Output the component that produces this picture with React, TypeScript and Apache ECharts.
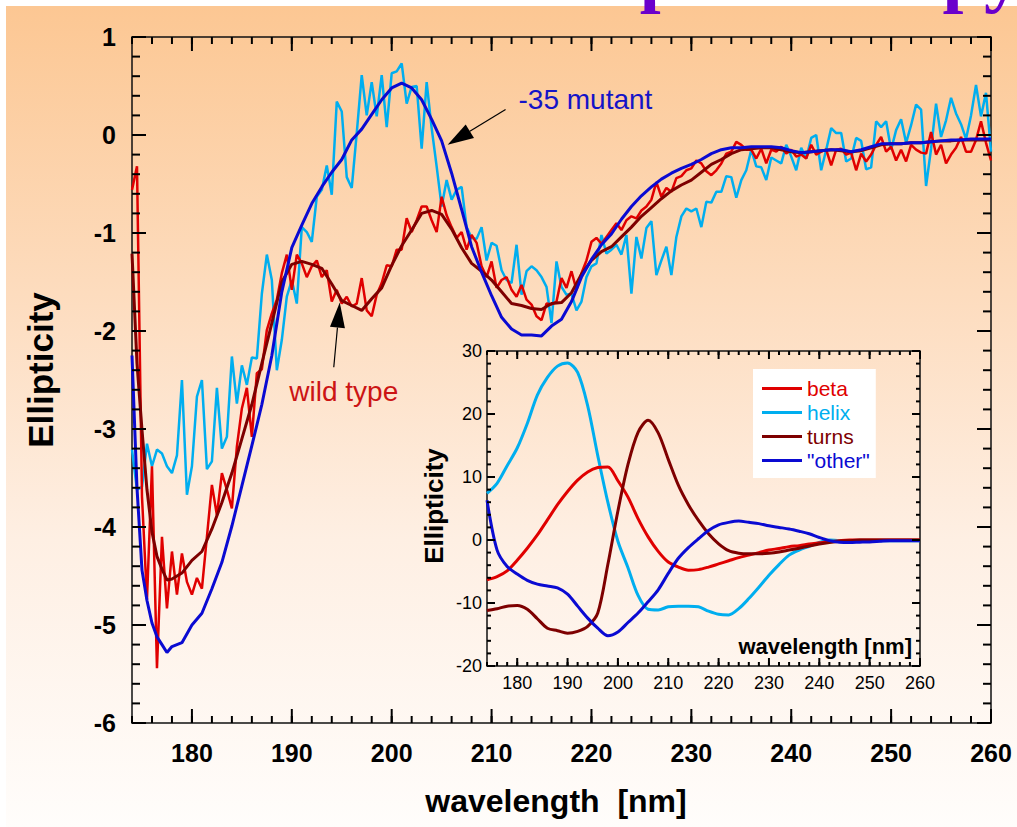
import { useEffect, useRef } from "react";
import * as echarts from "echarts";

// ---- main panel: CD scans, 0.5 nm steps from 174 nm ----
const scanStart = 174;
const scanStep = 0.5;

const mutantScan = [
  -3.21, -3.62, -3.59, -3.15, -3.38, -3.21, -3.25, -3.38, -3.45, -3.27,
  -2.5, -3.67, -3.38, -2.67, -2.5, -3.41, -3.33, -2.58, -3.2, -3.08,
  -2.26, -2.74, -2.35, -2.55, -2.27, -2.28, -1.62, -1.22, -1.48, -2.4,
  -2.09, -1.65, -1.48, -1.72, -0.94, -0.99, -1.09, -0.63, -0.56, -0.31,
  -0.61, 0.34, 0.24, -0.43, -0.54, 0.02, 0.61, 0.2, 0.54, 0.19,
  0.61, 0.08, 0.63, 0.65, 0.73, 0.32, 0.49, 0.5, -0.14, 0.54,
  0.07, -0.32, -0.73, -0.46, -0.66, -0.56, -0.53, -0.94, -1.05, -1.06,
  -0.94, -1.28, -1.1, -1.13, -1.38, -1.48, -1.51, -1.12, -1.63, -1.39,
  -1.34, -1.38, -1.45, -1.55, -1.92, -1.29, -1.55, -1.63, -1.62, -1.79,
  -1.7, -1.45, -1.34, -1.31, -1.02, -1.21, -1.17, -1.12, -1.22, -1.02,
  -1.62, -1.04, -1.26, -0.95, -0.88, -1.43, -1.28, -1.14, -1.43, -1.04,
  -0.83, -0.75, -0.78, -0.75, -0.94, -0.68, -0.69, -0.58, -0.58, -0.42,
  -0.43, -0.64, -0.46, -0.36, -0.15, -0.32, -0.33, -0.46, -0.23, -0.26,
  -0.29, -0.1, -0.22, -0.36, -0.13, -0.24, -0.03, 0.0, -0.36, -0.15,
  0.07, 0.02, 0.02, -0.27, -0.24, -0.03, -0.06, -0.35, -0.33, 0.14,
  0.08, 0.14, -0.15, 0.05, 0.16, -0.08, 0.1, 0.31, 0.26, -0.52,
  -0.14, 0.32, -0.02, 0.15, 0.38, 0.22, 0.11, -0.04, 0.2, 0.51,
  0.19, 0.43, -0.17,
];

const wildScan = [
  -0.56, -0.32, -3.69, -4.74, -3.38, -5.44, -4.1, -4.83, -4.25, -4.69,
  -4.27, -4.56, -4.69, -4.52, -4.63, -4.1, -3.57, -3.88, -3.45, -3.62,
  -3.81, -3.18, -2.79, -2.58, -3.08, -2.43, -2.39, -1.99, -1.82, -1.68,
  -1.41, -1.22, -1.58, -1.22, -1.31, -1.45, -1.34, -1.28, -1.45, -1.38,
  -1.7, -1.58, -1.72, -1.65, -1.75, -1.72, -1.46, -1.79, -1.85, -1.63,
  -1.51, -1.33, -1.34, -1.17, -1.17, -0.85, -0.99, -0.87, -0.73, -0.73,
  -0.87, -0.99, -0.63, -0.82, -0.94, -1.05, -0.99, -1.17, -1.02, -1.1,
  -1.34, -1.45, -1.29, -1.56, -1.48, -1.45, -1.58, -1.65, -1.53, -1.68,
  -1.73, -1.85, -1.89, -1.72, -1.73, -1.7, -1.46, -1.56, -1.39, -1.58,
  -1.41, -1.28, -1.09, -1.05, -1.11, -1.04, -0.97, -0.9, -0.97, -0.87,
  -0.83, -0.85, -0.77, -0.73, -0.66, -0.48, -0.63, -0.54, -0.58, -0.44,
  -0.42, -0.36, -0.34, -0.26, -0.29, -0.37, -0.41, -0.36, -0.29, -0.19,
  -0.17, -0.07, -0.1, -0.15, -0.15, -0.24, -0.14, -0.29, -0.15, -0.17,
  -0.12, -0.19, -0.15, -0.22, -0.2, -0.24, -0.1, -0.2, -0.17, -0.15,
  -0.31, -0.15, -0.14, -0.2, -0.18, -0.36, -0.19, -0.27, -0.2, -0.1,
  -0.02, -0.17, -0.12, -0.26, -0.15, -0.27, -0.1, -0.15, -0.18, -0.19,
  0.03, -0.2, -0.1, -0.29, -0.2, -0.13, -0.02, -0.17, -0.17, -0.05,
  0.14, -0.08, -0.26,
];

// fitted curves (secondary-structure fits)
const fitWavelengths = [
  174, 174.5, 175, 175.5, 176, 176.5, 177, 177.5, 178, 179, 180, 181, 182, 183, 184, 185, 186, 187, 188, 189,
  190, 191, 192, 193, 194, 195, 196, 197, 198, 199, 200, 201, 202, 203, 204, 205, 206, 207, 208, 209,
  210, 211, 212, 213, 214, 215, 216, 217, 218, 219, 220, 221, 222, 223, 224, 225, 226, 227, 228, 229,
  230, 231, 232, 233, 234, 235, 236, 237, 238, 239, 240, 241, 242, 243, 244, 245, 246, 247, 248, 249,
  250, 251, 252, 253, 254, 255, 256, 257, 258, 259, 260,
];

const mutantFit = [
  -2.25, -3.6, -4.44, -4.75, -4.98, -5.12, -5.2, -5.28, -5.22, -5.18, -5.0, -4.88, -4.63, -4.36, -3.99, -3.58, -3.17, -2.75, -2.25, -1.6,
  -1.15, -0.92, -0.7, -0.53, -0.38, -0.25, -0.05, 0.06, 0.21, 0.36, 0.48, 0.53, 0.48, 0.36, 0.16, -0.06, -0.39, -0.76, -1.14, -1.4,
  -1.64, -1.86, -1.98, -2.04, -2.04, -2.05, -1.95, -1.88, -1.7, -1.45, -1.27, -1.12, -1.01, -0.86, -0.73, -0.62, -0.53, -0.45, -0.39, -0.34,
  -0.3, -0.25, -0.19, -0.15, -0.13, -0.13, -0.12, -0.12, -0.12, -0.13, -0.16, -0.18, -0.17, -0.16, -0.15, -0.15, -0.17, -0.15, -0.12, -0.09,
  -0.09, -0.09, -0.08, -0.08, -0.07, -0.06, -0.05, -0.05, -0.04, -0.04, -0.04,
];

const wildFit = [
  -1.21, -2.33, -3.01, -3.62, -4.05, -4.3, -4.43, -4.54, -4.53, -4.47, -4.34, -4.25, -4.02, -3.75, -3.45, -3.1, -2.75, -2.33, -1.92, -1.5,
  -1.32, -1.29, -1.32, -1.36, -1.52, -1.69, -1.74, -1.79, -1.67, -1.56, -1.33, -1.13, -0.97, -0.8, -0.77, -0.81, -0.96, -1.15, -1.31, -1.39,
  -1.48, -1.6, -1.72, -1.74, -1.77, -1.78, -1.72, -1.71, -1.61, -1.42, -1.28, -1.19, -1.14, -1.04, -0.94, -0.83, -0.74, -0.65, -0.57, -0.51,
  -0.46, -0.38, -0.3, -0.25, -0.19, -0.15, -0.14, -0.13, -0.13, -0.15, -0.17, -0.18, -0.17, -0.16, -0.15, -0.16, -0.17, -0.16, -0.13, -0.1,
  -0.09, -0.09, -0.08, -0.08, -0.07, -0.06, -0.06, -0.05, -0.05, -0.05, -0.05,
];

// ---- inset: reference basis spectra on a 2 nm grid ----
const basisWavelengths = [
  174, 176, 178, 180, 182, 184, 186, 188, 190, 192, 194, 196, 198, 200, 202, 204, 206, 208, 210, 212, 214, 216,
  218, 220, 222, 224, 226, 228, 230, 232, 234, 236, 238, 240, 242, 244, 246, 248, 250, 252, 254, 256, 258, 260,
];
const betaBasis = [
  -6.3, -5.8, -4.9, -3.2, -1.3, 0.8, 3.2, 5.6, 7.7, 9.5, 10.8, 11.5, 11.6, 9.4, 6.8, 3.4, 0.5, -1.8, -3.5, -4.3, -4.8, -4.7,
  -4.3, -3.8, -3.3, -2.8, -2.4, -2.0, -1.6, -1.35, -1.05, -0.9, -0.65, -0.45, -0.25, -0.1, 0, 0, 0, 0, 0, 0, 0, 0,
];
const helixBasis = [
  7.4, 9.0, 11.8, 14.6, 18.5, 23.0, 25.8, 27.6, 28.1, 26.6, 21.3, 13.4, 6.0, -0.2, -4.4, -8.8, -11.0, -11.1, -10.6, -10.5, -10.5, -10.6,
  -11.3, -11.8, -11.9, -10.9, -9.3, -7.5, -5.6, -3.9, -2.4, -1.6, -1.0, -0.4, 0.0, -0.1, -0.1, -0.1, -0.1, -0.1, -0.1, -0.1, -0.1, -0.1,
];
const turnsBasis = [
  -11.2, -10.9, -10.5, -10.4, -11.0, -12.5, -14.0, -14.4, -14.8, -14.5, -13.7, -11.6, -3.9, 4.6, 12.0, 17.1, 19.0, 17.0, 12.8, 8.7, 5.6, 3.1,
  1.0, -0.6, -1.7, -2.1, -2.2, -2.2, -2.1, -1.9, -1.6, -1.3, -0.95, -0.65, -0.4, -0.2, -0.1, 0, 0, 0, 0, 0, 0, 0,
];
const otherBasis = [
  6.3, -1.6, -4.2, -5.4, -6.4, -7.0, -7.3, -7.6, -8.6, -10.5, -12.4, -14.0, -15.2, -14.6, -13.1, -11.6, -9.8, -7.9, -5.3, -2.9, -1.2, 0.2,
  1.5, 2.4, 2.8, 3.0, 2.8, 2.6, 2.25, 2.0, 1.75, 1.4, 1.0, 0.4, -0.1, -0.35, -0.4, -0.35, -0.3, -0.2, -0.1, -0.1, -0.1, -0.1,
];

const wavelengthTicks = [180, 190, 200, 210, 220, 230, 240, 250, 260];

const LIGHT_BLUE = "#00AEEF";
const BLUE = "#0A0AD2";
const RED = "#E00000";
const DARK_RED = "#7E0000";

const SANS = "'Liberation Sans', Arial, Helvetica, sans-serif";

const WL_MIN = 174;
const WL_MAX = 260;

type Pt = number[];

function scanPairs(values: number[]) {
  return values.map((v, i) => [scanStart + i * scanStep, v]);
}
function zipPairs(xs: number[], ys: number[]) {
  return xs.map((x, i) => [x, ys[i]]);
}
function steps(from: number, to: number, step: number) {
  const out: number[] = [];
  for (let i = 0; from + i * step <= to + 1e-9; i++) out.push(+(from + i * step).toFixed(4));
  return out;
}

function arrow(tail: Pt, tip: Pt, len: number, wid: number) {
  const dx = tip[0] - tail[0];
  const dy = tip[1] - tail[1];
  const d = Math.hypot(dx, dy);
  const ux = dx / d;
  const uy = dy / d;
  const nx = -uy;
  const ny = ux;
  const bx = tip[0] - ux * len;
  const by = tip[1] - uy * len;
  return [
    {
      type: "line",
      z: 20,
      shape: { x1: tail[0], y1: tail[1], x2: bx, y2: by },
      style: { stroke: "#000", lineWidth: 1.2 },
    },
    {
      type: "polygon",
      z: 20,
      shape: {
        points: [
          [tip[0], tip[1]],
          [bx + (nx * wid) / 2, by + (ny * wid) / 2],
          [bx - (nx * wid) / 2, by - (ny * wid) / 2],
        ],
      },
      style: { fill: "#000" },
    },
  ];
}

export default function App() {
  const ref = useRef<HTMLDivElement>(null);

  useEffect(() => {
    if (!ref.current) return;
    const chart = echarts.init(ref.current, undefined, { renderer: "svg", width: 1017, height: 827 });

    const mainLabel = { fontSize: 25, fontWeight: "bold", color: "#000", fontFamily: SANS };
    const insetLabel = { fontSize: 18, color: "#000", fontFamily: SANS };

    const lineSeries = (name: string, data: number[][], color: string, width: number, xi: number, yi: number, smooth: any = false) => ({
      name,
      type: "line",
      xAxisIndex: xi,
      yAxisIndex: yi,
      data,
      symbol: "none",
      smooth,
      silent: true,
      z: 3,
      lineStyle: { color, width },
      itemStyle: { color },
    });

    const wlAxis = (grid: number, label: any) => ({
      gridIndex: grid,
      type: "value",
      min: WL_MIN,
      max: WL_MAX,
      splitLine: { show: false },
      axisLine: { show: false },
      axisTick: { show: false },
      axisLabel: { show: true, customValues: wavelengthTicks, ...label },
    });
    const ellAxis = (grid: number, min: number, max: number, interval: number, label: any) => ({
      gridIndex: grid,
      type: "value",
      min,
      max,
      interval,
      splitLine: { show: false },
      axisLine: { show: false },
      axisTick: { show: false },
      axisLabel: { show: true, ...label },
    });

    const frame = { show: true, borderColor: "#111", borderWidth: 1.5, backgroundColor: "transparent" };

    chart.setOption({
      animation: false,
      backgroundColor: "transparent",
      grid: [
        { left: 132, top: 37, width: 859, height: 686, ...frame },
        { left: 487, top: 351, width: 433, height: 315, ...frame },
      ],
      xAxis: [wlAxis(0, { ...mainLabel, margin: 17 }), wlAxis(1, { ...insetLabel, margin: 8 })],
      yAxis: [
        ellAxis(0, -6, 1, 1, { ...mainLabel, margin: 16 }),
        ellAxis(1, -20, 30, 10, { ...insetLabel, margin: 5 }),
      ],
      legend: {
        show: true,
        orient: "vertical",
        left: 753,
        top: 369,
        backgroundColor: "#ffffff",
        padding: [9, 6, 7, 9],
        itemGap: 3,
        icon: "rect",
        itemWidth: 40,
        itemHeight: 3,
        selectedMode: false,
        textStyle: { fontSize: 21, fontFamily: SANS },
        data: [
          { name: "beta", textStyle: { color: RED } },
          { name: "helix", textStyle: { color: LIGHT_BLUE } },
          { name: "turns", textStyle: { color: DARK_RED } },
          { name: '"other"', textStyle: { color: BLUE } },
        ],
      },
      series: [
        lineSeries("-35 mutant scan", scanPairs(mutantScan), LIGHT_BLUE, 2.5, 0, 0),
        lineSeries("wild type scan", scanPairs(wildScan), RED, 2.5, 0, 0),
        lineSeries("wild type fit", zipPairs(fitWavelengths, wildFit), DARK_RED, 3, 0, 0),
        lineSeries("-35 mutant fit", zipPairs(fitWavelengths, mutantFit), BLUE, 3, 0, 0),
        lineSeries("helix", zipPairs(basisWavelengths, helixBasis), LIGHT_BLUE, 3, 1, 1, 0.3),
        lineSeries("beta", zipPairs(basisWavelengths, betaBasis), RED, 3, 1, 1, 0.3),
        lineSeries("turns", zipPairs(basisWavelengths, turnsBasis), DARK_RED, 3, 1, 1, 0.3),
        lineSeries('"other"', zipPairs(basisWavelengths, otherBasis), BLUE, 3, 1, 1, 0.3),
      ],
    });

    // pixel positions through each panel's own scales
    const toPx = (seriesIndex: number, x: number, y: number) =>
      chart.convertToPixel({ seriesIndex }, [x, y]) as number[];
    const px = (x: number, y: number) => toPx(0, x, y);

    // inward ticks on all four sides of a panel
    const tickLines: any[] = [];
    const tickStyle = { stroke: "#000", lineWidth: 2 };
    const addTicks = (
      si: number, yMin: number, yMax: number,
      yMajor: number[], yMinor: number[],
      xMajorLen: number, xMinorLen: number, yMajorLen: number, yMinorLen: number,
    ) => {
      const xs: [number, number][] = [
        ...steps(WL_MIN, WL_MAX, 2).map((v) => [v, xMinorLen] as [number, number]),
        ...wavelengthTicks.map((v) => [v, xMajorLen] as [number, number]),
      ];
      for (const [v, len] of xs) {
        const b = toPx(si, v, yMin);
        const t = toPx(si, v, yMax);
        tickLines.push({ type: "line", z: 15, silent: true, shape: { x1: b[0], y1: b[1], x2: b[0], y2: b[1] - len }, style: tickStyle });
        tickLines.push({ type: "line", z: 15, silent: true, shape: { x1: t[0], y1: t[1], x2: t[0], y2: t[1] + len }, style: tickStyle });
      }
      const ys: [number, number][] = [
        ...yMinor.map((v) => [v, yMinorLen] as [number, number]),
        ...yMajor.map((v) => [v, yMajorLen] as [number, number]),
      ];
      for (const [v, len] of ys) {
        const l = toPx(si, WL_MIN, v);
        const r = toPx(si, WL_MAX, v);
        tickLines.push({ type: "line", z: 15, silent: true, shape: { x1: l[0], y1: l[1], x2: l[0] + len, y2: l[1] }, style: tickStyle });
        tickLines.push({ type: "line", z: 15, silent: true, shape: { x1: r[0], y1: r[1], x2: r[0] - len, y2: r[1] }, style: tickStyle });
      }
    };
    addTicks(0, -6, 1, steps(-6, 1, 1), steps(-6, 1, 0.2), 14, 7, 14, 8);
    addTicks(4, -20, 30, steps(-20, 30, 10), steps(-20, 30, 2), 8, 4, 8, 4);

    const mutantLabel = px(212.7, 0.36);
    const wildLabel = px(195.2, -2.62);

    chart.setOption({
      graphic: [
        {
          type: "text",
          x: 598,
          y: -28,
          style: {
            text: "Spectroscopy",
            fill: "#6A00CC",
            fontSize: 75,
            fontWeight: "bold",
            fontFamily: "'Liberation Serif', 'Times New Roman', serif",
            align: "left",
            verticalAlign: "middle",
          },
        },
        {
          type: "text",
          x: 40,
          y: 370,
          rotation: Math.PI / 2,
          style: {
            text: "Ellipticity",
            fill: "#000",
            fontSize: 35,
            fontWeight: "bold",
            fontFamily: SANS,
            align: "center",
            verticalAlign: "middle",
          },
        },
        {
          type: "text",
          x: 556,
          y: 801,
          style: {
            text: "wavelength  [nm]",
            fill: "#000",
            fontSize: 32,
            fontWeight: "bold",
            fontFamily: SANS,
            align: "center",
            verticalAlign: "middle",
          },
        },
        {
          type: "text",
          x: 434,
          y: 506,
          rotation: Math.PI / 2,
          style: {
            text: "Ellipticity",
            fill: "#000",
            fontSize: 26,
            fontWeight: "bold",
            fontFamily: SANS,
            align: "center",
            verticalAlign: "middle",
          },
        },
        {
          type: "text",
          x: 912,
          y: 646,
          style: {
            text: "wavelength [nm]",
            fill: "#000",
            fontSize: 22,
            fontWeight: "bold",
            fontFamily: SANS,
            align: "right",
            verticalAlign: "middle",
          },
        },
        {
          type: "text",
          x: mutantLabel[0],
          y: mutantLabel[1],
          style: {
            text: "-35 mutant",
            fill: "#1414C8",
            fontSize: 28,
            fontFamily: SANS,
            align: "left",
            verticalAlign: "middle",
          },
        },
        {
          type: "text",
          x: wildLabel[0],
          y: wildLabel[1],
          style: {
            text: "wild type",
            fill: "#CC1414",
            fontSize: 28,
            fontFamily: SANS,
            align: "center",
            verticalAlign: "middle",
          },
        },
        ...tickLines,
        ...arrow(px(211.4, 0.26), px(205.6, -0.1), 26, 16),
        ...arrow(px(194.2, -2.37), px(194.8, -1.71), 25, 15),
      ],
    });

    return () => chart.dispose();
  }, []);

  return (
    <div
      ref={ref}
      style={{
        position: "absolute",
        left: 0,
        top: 0,
        width: 1017,
        height: 827,
        background:
          "linear-gradient(to bottom, #FCC793 0%, #FDDCBE 35%, #FEEFE3 65%, #FFFDFB 100%) 6px 6px / calc(100% - 6px) calc(100% - 6px) no-repeat, #ffffff",
      }}
    />
  );
}
